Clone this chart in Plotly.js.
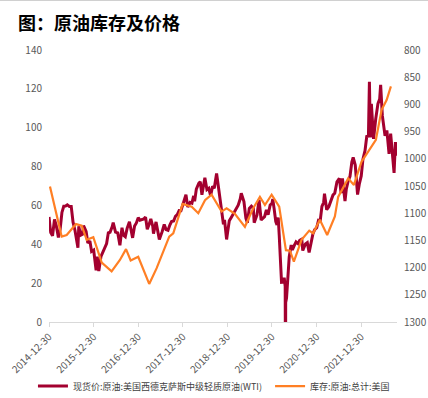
<!DOCTYPE html>
<html><head><meta charset="utf-8">
<script src="https://cdn.plot.ly/plotly-3.0.1.min.js"></script>
<style>html,body{margin:0;padding:0;background:#fff;}#topline{position:absolute;left:0;top:0;width:428px;height:1px;background:#d0d0d0;z-index:5;}#chart{width:428px;height:398px;}</style>
</head><body><div id="topline"></div><div id="chart"></div>
<script>
// 现货价:原油:美国西德克萨斯中级轻质原油(WTI) (美元/桶)
const wtiDates = ["2014-12-30","2015-01-13","2015-01-28","2015-02-13","2015-02-27","2015-03-17","2015-03-31","2015-04-15","2015-04-30","2015-05-15","2015-05-29","2015-06-15","2015-06-30","2015-07-15","2015-07-31","2015-08-14","2015-08-24","2015-08-31","2015-09-15","2015-09-30","2015-10-09","2015-10-30","2015-11-13","2015-11-30","2015-12-14","2015-12-31","2016-01-12","2016-01-20","2016-01-29","2016-02-11","2016-02-29","2016-03-15","2016-03-31","2016-04-15","2016-04-29","2016-05-13","2016-05-31","2016-06-08","2016-06-27","2016-07-15","2016-08-02","2016-08-19","2016-08-31","2016-09-15","2016-09-30","2016-10-19","2016-11-14","2016-11-30","2016-12-15","2016-12-30","2017-01-13","2017-01-31","2017-02-15","2017-02-28","2017-03-14","2017-03-31","2017-04-12","2017-04-28","2017-05-04","2017-05-25","2017-06-13","2017-06-21","2017-07-14","2017-07-31","2017-08-15","2017-08-31","2017-09-15","2017-09-29","2017-10-16","2017-10-31","2017-11-15","2017-11-30","2017-12-15","2017-12-29","2018-01-15","2018-01-25","2018-02-09","2018-02-28","2018-03-15","2018-03-29","2018-04-06","2018-04-20","2018-05-10","2018-05-22","2018-06-05","2018-06-29","2018-07-16","2018-07-31","2018-08-15","2018-08-31","2018-09-14","2018-09-28","2018-10-03","2018-10-19","2018-11-02","2018-11-15","2018-11-28","2018-12-07","2018-12-24","2019-01-02","2019-01-15","2019-01-31","2019-02-15","2019-02-28","2019-03-15","2019-03-29","2019-04-15","2019-04-23","2019-05-15","2019-05-31","2019-06-12","2019-06-28","2019-07-15","2019-07-31","2019-08-07","2019-08-30","2019-09-16","2019-09-30","2019-10-03","2019-10-31","2019-11-15","2019-11-29","2019-12-16","2019-12-31","2020-01-06","2020-01-17","2020-01-31","2020-02-10","2020-02-20","2020-02-28","2020-03-09","2020-03-18","2020-03-31","2020-04-09","2020-04-17","2020-04-20","2020-04-21","2020-04-28","2020-05-08","2020-05-20","2020-06-05","2020-06-15","2020-06-30","2020-07-15","2020-07-31","2020-08-14","2020-08-31","2020-09-08","2020-09-30","2020-10-15","2020-10-30","2020-11-13","2020-11-30","2020-12-15","2020-12-31","2021-01-15","2021-01-29","2021-02-12","2021-02-26","2021-03-05","2021-03-23","2021-04-09","2021-04-30","2021-05-14","2021-05-28","2021-06-15","2021-06-30","2021-07-06","2021-07-19","2021-07-30","2021-08-20","2021-08-31","2021-09-15","2021-09-30","2021-10-15","2021-10-26","2021-11-12","2021-11-26","2021-12-01","2021-12-15","2021-12-31","2022-01-14","2022-01-31","2022-02-14","2022-02-28","2022-03-08","2022-03-16","2022-03-24","2022-04-11","2022-04-29","2022-05-17","2022-05-31","2022-06-08","2022-06-22","2022-07-05","2022-07-14","2022-07-29","2022-08-16","2022-08-29","2022-09-16","2022-09-26","2022-10-07","2022-10-19"];
const wtiValues = [54.1,46.0,44.4,52.8,49.8,43.5,47.6,56.4,59.6,59.7,60.3,59.5,59.5,51.4,47.1,42.5,38.2,49.2,44.6,45.1,49.6,46.6,40.7,41.7,36.3,37.0,30.4,26.6,33.6,26.2,33.8,36.3,38.3,40.4,45.9,46.2,49.1,51.2,46.3,45.9,39.5,48.5,44.7,43.9,48.2,51.6,43.3,49.4,51.0,53.7,52.4,52.8,53.1,54.0,47.7,50.6,53.1,49.3,45.5,51.5,46.1,42.5,46.5,50.2,47.6,47.2,49.9,51.7,52.0,54.4,55.3,57.4,57.3,60.4,64.3,65.5,59.2,61.6,61.2,64.9,62.1,68.4,71.4,72.2,65.5,74.2,68.1,68.8,65.0,69.8,68.9,73.2,76.4,69.1,63.1,56.5,50.3,52.6,42.5,46.5,52.1,53.8,55.6,57.2,58.5,60.1,63.4,66.3,62.0,53.5,51.1,58.5,59.6,58.6,51.1,55.1,62.9,54.1,52.5,54.2,57.7,55.2,60.2,61.1,63.3,58.5,51.6,50.0,53.8,44.8,31.1,20.4,20.5,22.8,18.3,-37.6,10.0,12.3,24.7,33.5,39.6,37.1,39.3,41.2,40.3,42.0,42.6,36.8,40.2,40.9,35.8,40.1,45.3,47.6,48.5,52.4,52.2,59.5,61.5,66.1,57.8,59.3,63.6,65.4,66.3,72.1,73.5,73.4,66.4,73.9,62.3,68.5,72.6,75.0,82.3,84.7,80.8,68.2,65.6,70.9,75.2,83.8,88.2,95.5,95.7,123.7,95.0,112.3,94.3,104.7,112.4,114.7,122.1,106.2,99.5,95.8,98.6,86.5,97.0,85.1,76.7,92.6,85.6];

// 库存:原油:总计:美国 (百万桶, 右轴逆序)
const stockDates = ["2015-01-07","2015-04-13","2015-05-24","2015-08-08","2015-09-24","2015-11-04","2015-12-28","2016-03-06","2016-05-26","2016-08-02","2016-09-21","2016-10-29","2016-12-30","2017-03-30","2017-05-30","2017-09-10","2017-10-13","2017-12-29","2018-03-13","2018-05-06","2018-06-30","2018-08-23","2018-11-13","2018-12-24","2019-03-02","2019-05-23","2019-07-30","2019-09-23","2019-11-03","2019-12-28","2020-02-28","2020-04-23","2020-05-26","2020-06-27","2020-08-29","2020-10-31","2020-12-02","2021-01-26","2021-03-27","2021-05-29","2021-06-25","2021-09-15","2021-11-01","2022-01-03","2022-02-26","2022-04-30","2022-06-16","2022-07-27","2022-08-31"];
const stockValues = [1051,1143,1140,1120,1123,1149,1144,1191,1207,1186,1166,1187,1180,1230,1201,1143,1137,1083,1088,1100,1076,1066,1097,1091,1101,1125,1091,1070,1085,1066,1088,1168,1169,1189,1149,1132,1137,1112,1140,1106,1070,1036,1048,1005,987,965,910,892,867];

const xTickStart = "2014-12-30";
const xRange = ["2014-12-30", "2022-10-20"];
const seriesNames = ["现货价:原油:美国西德克萨斯中级轻质原油(WTI)", "库存:原油:总计:美国"];

const fontFam = '"Noto Sans CJK SC", "Noto Sans", sans-serif';
const traces = [
  {x: wtiDates, y: wtiValues, type: 'scatter', mode: 'lines', name: seriesNames[0],
   line: {color: '#A3002F', width: 3}, yaxis: 'y', legend: 'legend'},
  {x: stockDates, y: stockValues, type: 'scatter', mode: 'lines', name: seriesNames[1],
   line: {color: '#FF7F24', width: 2.2}, yaxis: 'y2', legend: 'legend2'}
];
const legendCommon = {orientation: 'h', xref: 'container', yref: 'container', yanchor: 'middle', xanchor: 'left',
  y: 0.03, bgcolor: 'rgba(0,0,0,0)', font: {size: 9, color: '#404040'}, itemwidth: 30};
const layout = {
  width: 428, height: 398,
  margin: {l: 49, r: 31, t: 50, b: 76},
  paper_bgcolor: '#fff', plot_bgcolor: '#fff',
  font: {family: fontFam, color: '#595959', size: 10},
  title: {text: '<b>图：原油库存及价格</b>', font: {family: fontFam, size: 18, color: '#000'},
          xref: 'container', yref: 'container', x: 0.042, xanchor: 'left', y: 0.94, yanchor: 'middle'},
  showlegend: true,
  legend: Object.assign({}, legendCommon, {x: 0.077}),
  legend2: Object.assign({}, legendCommon, {x: 0.631}),
  xaxis: {type: 'date', range: xRange, tick0: xTickStart, dtick: 'M12', tickformat: '%Y-%m-%d',
          tickangle: -45, showgrid: false, showline: true, linecolor: '#d9d9d9', linewidth: 1,
          ticks: 'outside', ticklen: 4, tickcolor: '#d9d9d9', zeroline: false,
          tickfont: {size: 10, color: '#595959'}},
  yaxis: {range: [0, 140], dtick: 20, showgrid: false, zeroline: false, showline: false,
          ticks: 'outside', ticklen: 4, tickcolor: 'rgba(0,0,0,0)', tickfont: {size: 10, color: '#595959'}},
  yaxis2: {range: [1300, 800], dtick: 50, overlaying: 'y', side: 'right', showgrid: false, zeroline: false,
           showline: false, ticks: 'outside', ticklen: 4, tickcolor: 'rgba(0,0,0,0)',
           tickfont: {size: 10, color: '#595959'}}
};
Plotly.newPlot('chart', traces, layout, {staticPlot: true, displayModeBar: false});
</script></body></html>
